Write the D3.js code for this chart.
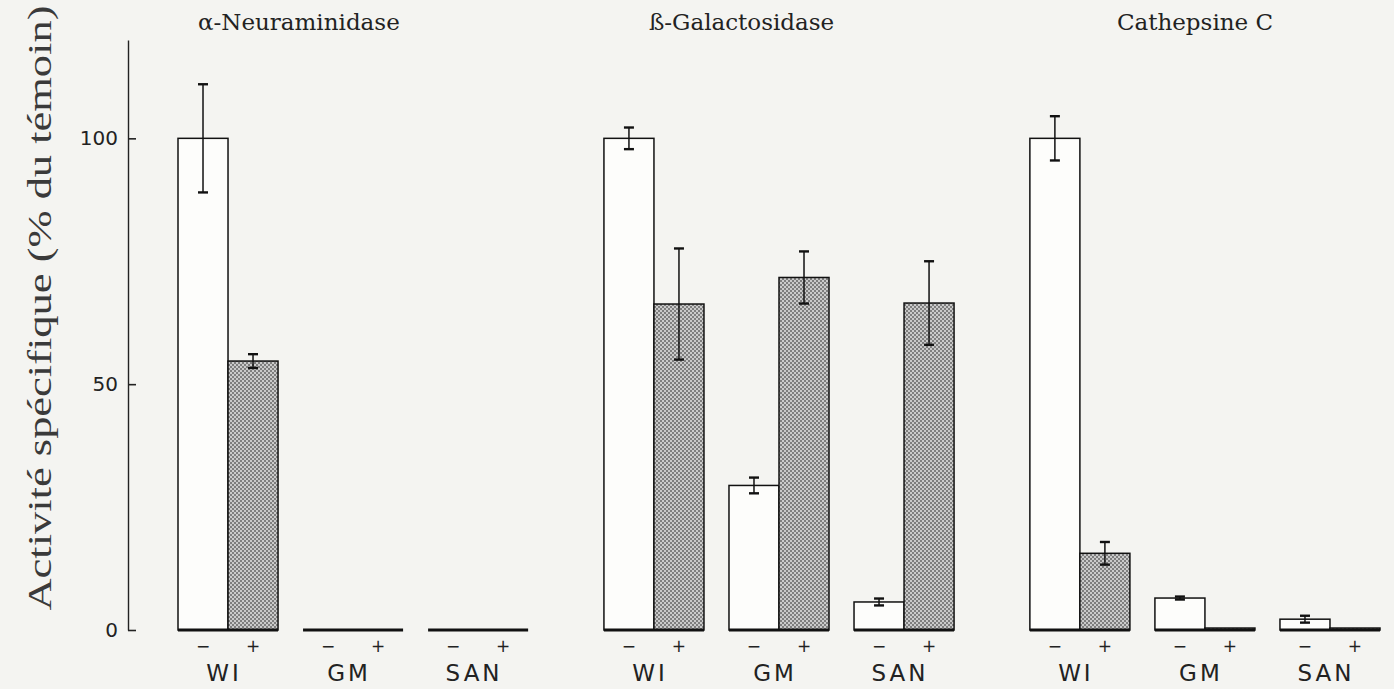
<!DOCTYPE html>
<html><head><meta charset="utf-8">
<script src="https://cdn.jsdelivr.net/npm/d3@7"></script>
<style>html,body{margin:0;padding:0;background:#f4f4f1}</style>
</head><body><svg id="chart" width="1394" height="689"></svg>
<script>
const panels = ["α-Neuraminidase", "ß-Galactosidase", "Cathepsine C"];
const groups = ["WI", "GM", "SAN"];
const treatments = ["−", "+"];
const yTicks = [0, 50, 100];
const neuraminidaseMean = [100, 54.7, 0, 0, 0, 0];
const neuraminidaseErr  = [11, 1.4, 0, 0, 0, 0];
const galactosidaseMean = [100, 66.3, 29.4, 71.7, 5.7, 66.5];
const galactosidaseErr  = [2.2, 11.3, 1.6, 5.3, 0.7, 8.5];
const cathepsineMean    = [100, 15.6, 6.5, 0.4, 2.2, 0.4];
const cathepsineErr     = [4.5, 2.3, 0.3, 0, 0.7, 0];
const yLabel = "Activité spécifique (% du témoin)";

const means = [neuraminidaseMean, galactosidaseMean, cathepsineMean];
const errs = [neuraminidaseErr, galactosidaseErr, cathepsineErr];
const rows = [];
panels.forEach((p, pi) => groups.forEach((g, gi) => treatments.forEach((t, ti) => {
  rows.push({panel: p, group: g, treat: t, ti, v: means[pi][gi*2+ti], e: errs[pi][gi*2+ti]});
})));

const svg = d3.select("#chart");
const defs = svg.append("defs");
const pat = defs.append("pattern").attr("id","stip").attr("patternUnits","userSpaceOnUse")
  .attr("width",4).attr("height",4);
pat.append("rect").attr("width",4).attr("height",4).attr("fill","#cacaca");
pat.append("rect").attr("width",2).attr("height",2).attr("fill","#7e7e7e");
pat.append("rect").attr("x",2).attr("y",2).attr("width",2).attr("height",2).attr("fill","#7e7e7e");

const y = d3.scaleLinear().domain([0, 120]).range([630, 40]);
const xPanel = d3.scaleBand().domain(panels).range([178, 1380]).paddingInner(0.178);
const xGroup = d3.scaleBand().domain(groups).range([0, xPanel.bandwidth()]).paddingInner(0.2);
const xTreat = d3.scaleBand().domain(treatments).range([0, xGroup.bandwidth()]);

// y axis
const ax = svg.append("g").attr("transform","translate(128,0)")
  .call(d3.axisLeft(y).tickValues(yTicks).tickSizeInner(-8).tickSizeOuter(0).tickPadding(10));
ax.select(".domain").attr("stroke","#222").attr("stroke-width",1.4);
ax.selectAll(".tick line").attr("stroke","#222").attr("stroke-width",1.6);
ax.selectAll(".tick text").attr("font-family","DejaVu Sans").attr("font-size",20).attr("fill","#222");

svg.append("text")
  .attr("transform","translate(40,308) rotate(-90)")
  .attr("text-anchor","middle").attr("dominant-baseline","central")
  .attr("font-family","Liberation Serif").attr("font-size",33).attr("fill","#3a3a3a")
  .attr("textLength",605).attr("lengthAdjust","spacingAndGlyphs")
  .text(yLabel);

// titles
const titleOffsets = [20, 45, 87];
svg.selectAll(".title").data(panels).join("text").attr("class","title")
  .attr("x",(d,i)=>xPanel(d)+titleOffsets[i]).attr("y",30)
  .attr("font-family","DejaVu Serif").attr("font-size",23).attr("fill","#222")
  .text(d=>d);

const bx = d => xPanel(d.panel) + xGroup(d.group) + xTreat(d.treat);
const bw = xTreat.bandwidth();

svg.selectAll(".bar").data(rows).join("rect").attr("class","bar")
  .attr("x", bx).attr("width", bw)
  .attr("y", d => y(d.v)).attr("height", d => y(0) - y(d.v))
  .attr("fill", d => d.ti === 0 ? "#fdfdfb" : "url(#stip)")
  .attr("stroke","#111").attr("stroke-width",1.5);

// baselines
const groupRows = [];
panels.forEach(p => groups.forEach(g => groupRows.push({panel:p, group:g})));
svg.selectAll(".base").data(groupRows).join("line").attr("class","base")
  .attr("x1", d => xPanel(d.panel)+xGroup(d.group))
  .attr("x2", d => xPanel(d.panel)+xGroup(d.group)+xGroup.bandwidth())
  .attr("y1", y(0)).attr("y2", y(0))
  .attr("stroke","#111").attr("stroke-width",3);

// error bars
const eb = svg.selectAll(".err").data(rows.filter(d=>d.e>0)).join("g").attr("class","err")
  .attr("stroke","#111").attr("stroke-width",1.5);
eb.append("line").attr("x1",d=>bx(d)+bw/2).attr("x2",d=>bx(d)+bw/2)
  .attr("y1",d=>y(d.v+d.e)).attr("y2",d=>y(d.v-d.e));
eb.append("line").attr("x1",d=>bx(d)+bw/2-5).attr("x2",d=>bx(d)+bw/2+5)
  .attr("y1",d=>y(d.v+d.e)).attr("y2",d=>y(d.v+d.e)).attr("stroke-width",2.4);
eb.append("line").attr("x1",d=>bx(d)+bw/2-5).attr("x2",d=>bx(d)+bw/2+5)
  .attr("y1",d=>y(d.v-d.e)).attr("y2",d=>y(d.v-d.e)).attr("stroke-width",2.4);

// treatment labels
svg.selectAll(".tlab").data(rows).join("text").attr("class","tlab")
  .attr("x", d => bx(d)+bw/2).attr("y", 652)
  .attr("text-anchor","middle").attr("font-family","DejaVu Sans").attr("font-size",17).attr("fill","#222")
  .text(d => d.treat);

// group labels
svg.selectAll(".glab").data(groupRows).join("text").attr("class","glab")
  .attr("x", d => xPanel(d.panel)+xGroup(d.group)+xGroup.bandwidth()/2 - 4).attr("y", 681)
  .attr("text-anchor","middle").attr("font-family","DejaVu Sans").attr("font-size",23)
  .attr("letter-spacing",3).attr("fill","#222")
  .text(d => d.group);
</script></body></html>
